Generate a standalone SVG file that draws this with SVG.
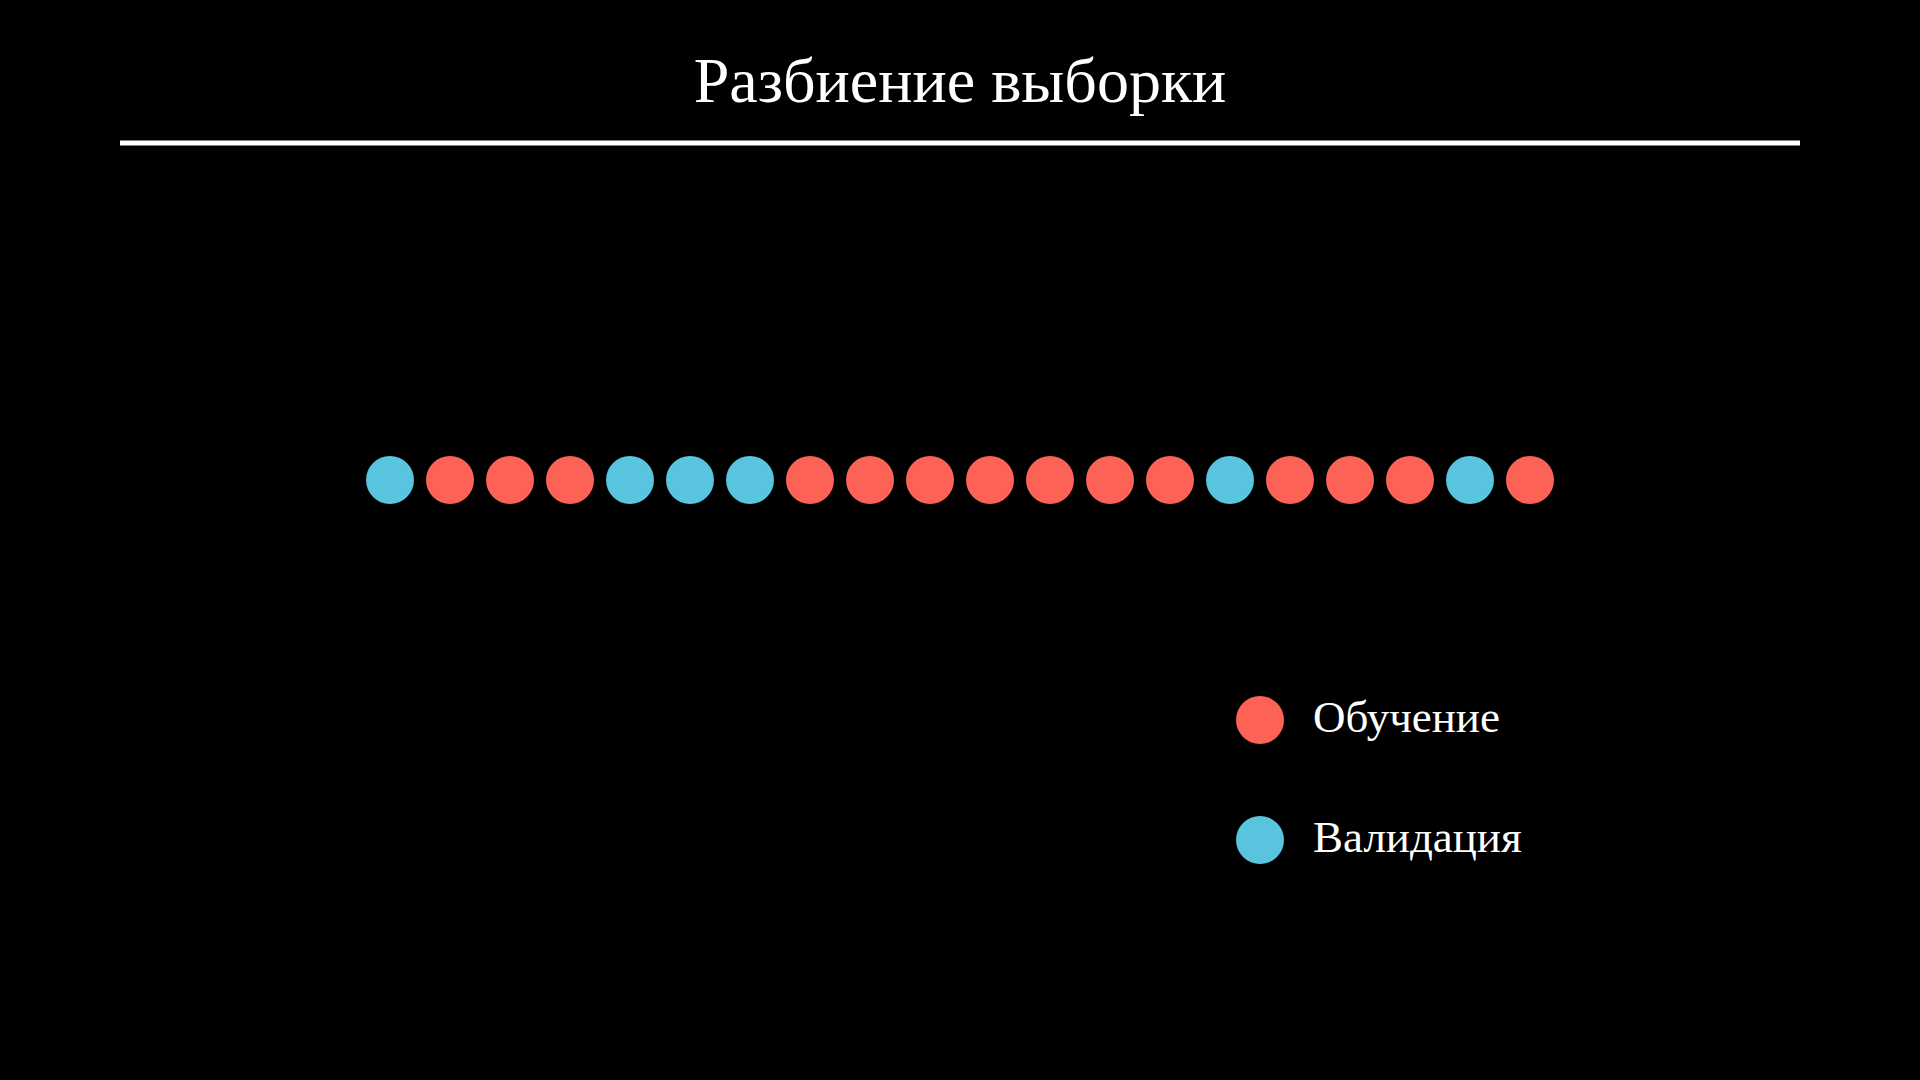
<svg xmlns="http://www.w3.org/2000/svg" width="1920" height="1080" viewBox="0 0 1920 1080">
<style>
.t{fill:#ffffff;font-family:"Liberation Serif","DejaVu Serif",serif;}
.r{fill:#FC6255;}
.b{fill:#58C4DD;}
</style>
<rect width="1920" height="1080" fill="#000000"/>
<g id="title">
<text class="t" x="960" y="102" font-size="64" text-anchor="middle">Разбиение выборки</text>
<line x1="120" y1="143" x2="1800" y2="143" stroke="#ffffff" stroke-width="5"/>
</g>
<g id="samples">
<circle class="b" cx="390" cy="480" r="24"/>
<circle class="r" cx="450" cy="480" r="24"/>
<circle class="r" cx="510" cy="480" r="24"/>
<circle class="r" cx="570" cy="480" r="24"/>
<circle class="b" cx="630" cy="480" r="24"/>
<circle class="b" cx="690" cy="480" r="24"/>
<circle class="b" cx="750" cy="480" r="24"/>
<circle class="r" cx="810" cy="480" r="24"/>
<circle class="r" cx="870" cy="480" r="24"/>
<circle class="r" cx="930" cy="480" r="24"/>
<circle class="r" cx="990" cy="480" r="24"/>
<circle class="r" cx="1050" cy="480" r="24"/>
<circle class="r" cx="1110" cy="480" r="24"/>
<circle class="r" cx="1170" cy="480" r="24"/>
<circle class="b" cx="1230" cy="480" r="24"/>
<circle class="r" cx="1290" cy="480" r="24"/>
<circle class="r" cx="1350" cy="480" r="24"/>
<circle class="r" cx="1410" cy="480" r="24"/>
<circle class="b" cx="1470" cy="480" r="24"/>
<circle class="r" cx="1530" cy="480" r="24"/>
</g>
<g id="legend-train">
<circle class="r" cx="1260" cy="720" r="24"/>
<text class="t" x="1313" y="732" font-size="45">Обучение</text>
</g>
<g id="legend-val">
<circle class="b" cx="1260" cy="840" r="24"/>
<text class="t" x="1313" y="852" font-size="45">Валидация</text>
</g>
<g id="connectors"/>
</svg>
